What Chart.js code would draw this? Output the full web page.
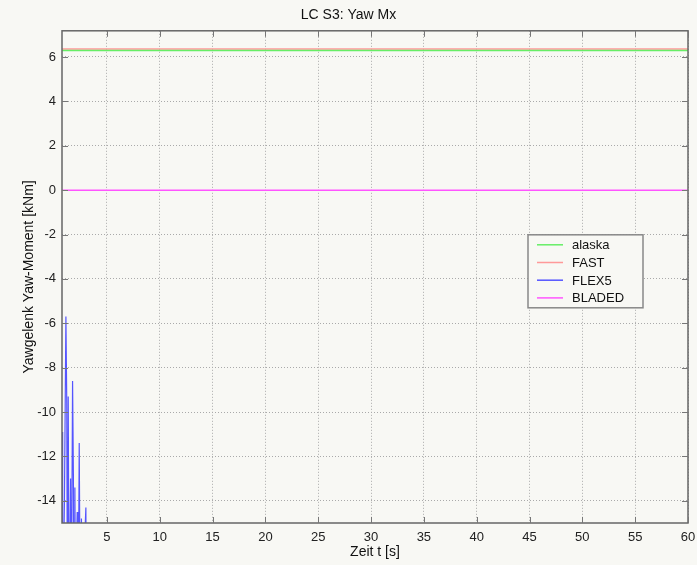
<!DOCTYPE html>
<html>
<head>
<meta charset="utf-8">
<script src="https://cdn.jsdelivr.net/npm/chart.js@4.4.1/dist/chart.umd.min.js"></script>
<style>
  body { margin: 0; background: #f8f8f4; }
  #wrap { width: 697px; height: 565px; }
</style>
</head>
<body>
<div id="wrap"><canvas id="yawChart" width="697" height="565"></canvas></div>
<script>
// time span of the constant series
var timeEnds = [0.75, 60];
var alaskaY = [6.29, 6.29];
var fastY = [6.36, 6.36];
var bladedY = [0, 0];

// FLEX5 start-up oscillation (values below -15 are cut off by the axis)
var flexT = [0.75, 0.78, 0.84, 0.98, 1.12, 1.20, 1.27, 1.34, 1.42, 1.56, 1.63, 1.75, 1.83, 1.90, 1.97, 2.05, 2.12, 2.19, 2.26, 2.38, 2.46, 2.52, 2.59, 2.66, 2.80, 3.01, 3.08, 3.20, 3.30];
var flexY = [-18, -10.9, -20, -14, -5.7, -9.6, -20, -9.3, -20, -13.0, -20, -8.6, -13, -22, -13.4, -22, -16, -14.5, -22, -11.4, -18, -24, -14.8, -24, -17, -14.3, -20, -30, -35];

var xTicks = [5, 10, 15, 20, 25, 30, 35, 40, 45, 50, 55, 60];
var yTicks = [-14, -12, -10, -8, -6, -4, -2, 0, 2, 4, 6];

function pairs(xs, ys) {
    var out = [];
    for (var i = 0; i < xs.length; i++) {
        out.push({ x: xs[i], y: ys[i] });
    }
    return out;
}

var fontName = "'Liberation Sans', Arial, sans-serif";

// box, inside tick marks and legend like the matlab figure
var framePlugin = {
    id: 'frame',
    afterDatasetsDraw: function (chart) {
        var ctx = chart.ctx;
        var a = chart.chartArea;
        var xs = chart.scales.x, ys = chart.scales.y;
        ctx.save();
        ctx.strokeStyle = '#666';
        ctx.lineWidth = 1.5;
        ctx.strokeRect(a.left, a.top, a.right - a.left, a.bottom - a.top);
        ctx.lineWidth = 1;
        ctx.strokeStyle = '#777';
        ctx.beginPath();
        xTicks.forEach(function (v) {
            var px = Math.round(xs.getPixelForValue(v)) + 0.5;
            ctx.moveTo(px, a.bottom); ctx.lineTo(px, a.bottom - 6);
            ctx.moveTo(px, a.top); ctx.lineTo(px, a.top + 6);
        });
        yTicks.forEach(function (v) {
            var py = Math.round(ys.getPixelForValue(v)) + 0.5;
            ctx.moveTo(a.left, py); ctx.lineTo(a.left + 6, py);
            ctx.moveTo(a.right, py); ctx.lineTo(a.right - 6, py);
        });
        ctx.stroke();

        // legend
        var lx = a.left + 466, ly = a.top + 204, lw = 115, lh = 73;
        ctx.fillStyle = '#f8f8f4';
        ctx.fillRect(lx, ly, lw, lh);
        ctx.strokeStyle = '#888';
        ctx.lineWidth = 1.5;
        ctx.strokeRect(lx, ly, lw, lh);
        ctx.font = '13px ' + fontName;
        ctx.textBaseline = 'middle';
        chart.data.datasets.forEach(function (ds, i) {
            var yy = ly + 10 + i * 17.7;
            ctx.strokeStyle = ds.borderColor;
            ctx.lineWidth = 1.5;
            ctx.beginPath();
            ctx.moveTo(lx + 9, yy); ctx.lineTo(lx + 35, yy);
            ctx.stroke();
            ctx.fillStyle = '#111';
            ctx.fillText(ds.label, lx + 44, yy + 1);
        });
        ctx.restore();
    }
};

var ctx = document.getElementById('yawChart');
var yawChart = new Chart(ctx, {
    type: 'line',
    data: {
        datasets: [
            { label: 'alaska', data: pairs(timeEnds, alaskaY), borderColor: '#66ee66', borderWidth: 1.5, pointRadius: 0 },
            { label: 'FAST', data: pairs(timeEnds, fastY), borderColor: '#ff9999', borderWidth: 1.5, pointRadius: 0 },
            { label: 'FLEX5', data: pairs(flexT, flexY), borderColor: '#5555ff', borderWidth: 1.2, pointRadius: 0 },
            { label: 'BLADED', data: pairs(timeEnds, bladedY), borderColor: '#ff55ff', borderWidth: 1.5, pointRadius: 0 }
        ]
    },
    options: {
        responsive: false,
        animation: false,
        layout: { padding: { left: 0, right: 0, top: 0, bottom: 0 } },
        plugins: {
            legend: { display: false },
            tooltip: { enabled: false },
            title: {
                display: true,
                text: 'LC S3: Yaw Mx',
                color: '#111',
                font: { family: fontName, size: 14, weight: 'normal' },
                padding: { top: 7, bottom: 7 }
            }
        },
        scales: {
            x: {
                type: 'linear',
                min: 0.75,
                max: 60,
                afterBuildTicks: function (scale) {
                    scale.ticks = xTicks.map(function (v) { return { value: v }; });
                },
                afterFit: function (scale) {
                    scale.height = 42;
                    scale.paddingLeft = 0;
                    scale.paddingRight = 9;
                },
                grid: { color: '#aaa', drawTicks: false },
                border: { display: false, dash: [1, 2] },
                ticks: { color: '#222', padding: 7, maxRotation: 0, font: { family: fontName, size: 13 } },
                title: {
                    display: true,
                    text: 'Zeit t [s]',
                    color: '#111',
                    font: { family: fontName, size: 14 },
                    padding: { top: 0, bottom: 4 }
                }
            },
            y: {
                min: -15,
                max: 7.18,
                afterBuildTicks: function (scale) {
                    scale.ticks = yTicks.map(function (v) { return { value: v }; });
                },
                afterFit: function (scale) { scale.width = 62; },
                grid: { color: '#aaa', drawTicks: false },
                border: { display: false, dash: [1, 2] },
                ticks: { color: '#222', padding: 6, font: { family: fontName, size: 13 } },
                title: {
                    display: true,
                    text: 'Yawgelenk Yaw-Moment [kNm]',
                    color: '#111',
                    font: { family: fontName, size: 14 },
                    padding: { top: 21, bottom: 0 }
                }
            }
        }
    },
    plugins: [framePlugin]
});
</script>
</body>
</html>
